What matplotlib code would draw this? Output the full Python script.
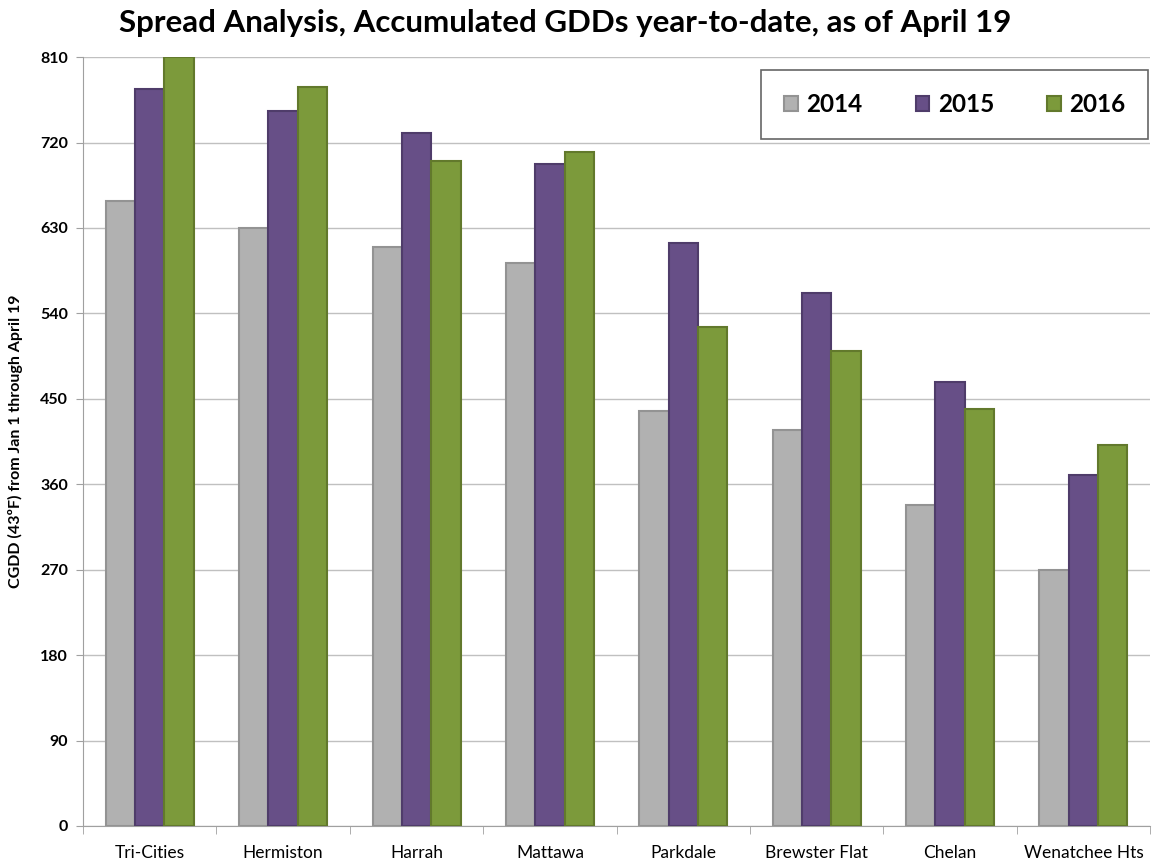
import matplotlib
matplotlib.use('Agg')
import matplotlib.pyplot as plt
import numpy as np

plt.rcParams['font.family'] = ['Lato', 'DejaVu Sans']

# Data
sites = ['Tri-Cities', 'Hermiston', 'Harrah', 'Mattawa', 'Parkdale',
         'Brewster Flat', 'Chelan', 'Wenatchee Hts']
years = ['2014', '2015', '2016']
gdd_2014 = [658, 630, 610, 593, 437, 417, 338, 270]
gdd_2015 = [776, 753, 730, 697, 614, 561, 468, 370]
gdd_2016 = [810, 778, 701, 710, 526, 500, 439, 401]
yticks = list(range(0, 811, 90))

colors = ['#b1b1b1', '#674f87', '#7c9a3b']
edges = ['#939393', '#4f3c6a', '#62792c']

fig = plt.figure(figsize=(11.54, 8.61), dpi=100)
ax = fig.add_axes([0.072, 0.0407, 0.9246, 0.893])

x = np.arange(len(sites))
w = 0.22
for i, (vals, c, e) in enumerate(zip([gdd_2014, gdd_2015, gdd_2016], colors, edges)):
    ax.bar(x + (i - 1) * w, vals, width=w, color=c, edgecolor=e, linewidth=1.5,
           label=years[i], zorder=3)

ax.set_xlim(-0.5, len(sites) - 0.5)
ax.set_ylim(0, 810)
ax.set_yticks(yticks)
ax.set_yticklabels([str(t) for t in yticks], fontsize=11.5, fontweight='bold')
ax.set_xticks(x)
ax.set_xticklabels(sites, fontsize=12.5)
ax.set_xticks(np.arange(-0.5, len(sites)), minor=True)
ax.tick_params(axis='x', which='major', length=0, pad=14)
ax.tick_params(axis='x', which='minor', length=6, color='#a0a0a0')
ax.tick_params(axis='y', length=5, color='#a0a0a0', pad=6)
ax.grid(axis='y', color='#c0c0c0', linewidth=1, zorder=0)
for s in ['top', 'right']:
    ax.spines[s].set_visible(False)
ax.spines['left'].set_color('#a0a0a0')
ax.spines['bottom'].set_color('#a0a0a0')

ax.set_ylabel('CGDD (43ºF) from Jan 1 through April 19', fontsize=11.5,
              fontweight='bold', labelpad=12)

fig.text(0.49, 0.973, 'Spread Analysis, Accumulated GDDs year-to-date, as of April 19',
         ha='center', va='center', fontsize=22.5, fontweight='bold')

leg = ax.legend(loc='upper right', bbox_to_anchor=(0.9985, 0.983), ncol=3,
                prop={'weight': 'bold', 'size': 17.5}, borderaxespad=0,
                frameon=True, fancybox=False, handlelength=0.55, handleheight=0.55,
                borderpad=0.95, columnspacing=2.2, handletextpad=0.35)
leg.get_frame().set_edgecolor('#404040')
leg.get_frame().set_linewidth(1.2)

fig.savefig('out.png', dpi=100)
